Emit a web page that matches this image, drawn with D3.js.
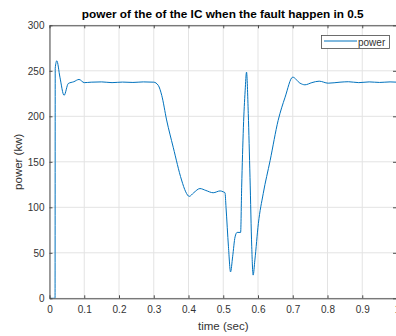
<!DOCTYPE html>
<html>
<head>
<meta charset="utf-8">
<script src="https://cdn.jsdelivr.net/npm/d3@7"></script>
<style>
  html, body { margin: 0; padding: 0; background: #fff; }
  svg { display: block; font-family: "Liberation Sans", Arial, Helvetica, sans-serif; }
</style>
</head>
<body>
<svg id="chart" width="396" height="336"></svg>
<script>
// Power of the IC over time (s), fault at t = 0.5
const timeSec = [
  0, 0.0160, 0.0165, 0.021, 0.030, 0.042, 0.054, 0.070, 0.085, 0.100,
  0.120, 0.150, 0.180, 0.210, 0.240, 0.270, 0.300, 0.313, 0.323, 0.337,
  0.356, 0.380, 0.392, 0.402, 0.415, 0.433, 0.450, 0.471, 0.491, 0.500,
  0.505, 0.508, 0.515, 0.521, 0.527, 0.534, 0.540, 0.550, 0.553, 0.558,
  0.563, 0.567, 0.572, 0.577, 0.582, 0.586, 0.591, 0.601, 0.615, 0.635,
  0.658, 0.678, 0.700, 0.721, 0.735, 0.755, 0.776, 0.802, 0.836, 0.860,
  0.890, 0.920, 0.950, 0.980, 1.000
];
const powerKw = [
  0, 0, 253, 261, 243, 223, 236, 238, 240.5, 237,
  237.5, 237.8, 237, 237.6, 237.2, 237.8, 237.5, 234, 223, 196,
  166, 130, 117, 112, 116, 120.6, 118.5, 116, 118, 117,
  116, 100, 56.6, 29, 45.6, 67.5, 72.4, 72.4, 122, 188,
  228, 248.5, 203, 133, 56.6, 25.5, 42, 82, 115, 151.6,
  195.5, 221, 243, 236.4, 234.6, 237, 238.6, 236.4, 237.5, 238,
  237, 237.8, 237.2, 237.8, 237.5
];
const xTicks = [0, 0.1, 0.2, 0.3, 0.4, 0.5, 0.6, 0.7, 0.8, 0.9, 1];
const yTicks = [0, 50, 100, 150, 200, 250, 300];
const seriesName = "power";
const titleText = "power of the of the IC when the fault happen in 0.5";

const svg = d3.select("#chart");
const plotL = 49.5, plotR = 397, plotT = 25.3, plotB = 298.3;

const x = d3.scaleLinear().domain([0, 1]).range([plotL, plotR]);
const y = d3.scaleLinear().domain([0, 300]).range([plotB, plotT]);

const axisColor = "#4a4a4a";
const textColor = "#333333";
const lineColor = "#0072BD";

// grid
svg.append("g").selectAll("line").data(xTicks).join("line")
  .attr("x1", d => x(d)).attr("x2", d => x(d))
  .attr("y1", plotT).attr("y2", plotB)
  .attr("stroke", "#e3e3e3").attr("stroke-width", 1);
svg.append("g").selectAll("line").data(yTicks).join("line")
  .attr("x1", plotL).attr("x2", plotR)
  .attr("y1", d => y(d)).attr("y2", d => y(d))
  .attr("stroke", "#e3e3e3").attr("stroke-width", 1);

// data line
svg.append("defs").append("clipPath").attr("id", "plotClip")
  .append("rect").attr("x", plotL).attr("y", plotT)
  .attr("width", plotR - plotL).attr("height", plotB - plotT);

const pts = timeSec.map((t, i) => [t, powerKw[i]]);
svg.append("path")
  .datum(pts)
  .attr("clip-path", "url(#plotClip)")
  .attr("fill", "none")
  .attr("stroke", lineColor)
  .attr("stroke-width", 1)
  .attr("stroke-linejoin", "round")
  .attr("d", d3.line().x(d => x(d[0])).y(d => y(d[1])).curve(d3.curveMonotoneX));

// axes (inward ticks, box on)
const xAxisB = d3.axisBottom(x).tickValues(xTicks).tickSizeInner(-3).tickSizeOuter(0)
  .tickFormat(d => d === 0 ? "0" : d === 1 ? "1" : d3.format(".1f")(d));
const gx = svg.append("g").attr("transform", `translate(0,${plotB})`).call(xAxisB);
const xAxisT = d3.axisTop(x).tickValues(xTicks).tickSizeInner(-3).tickSizeOuter(0).tickFormat("");
const gxt = svg.append("g").attr("transform", `translate(0,${plotT})`).call(xAxisT);

const yAxisL = d3.axisLeft(y).tickValues(yTicks).tickSizeInner(-3).tickSizeOuter(0);
const gy = svg.append("g").attr("transform", `translate(${plotL},0)`).call(yAxisL);
const yAxisR = d3.axisRight(y).tickValues(yTicks).tickSizeInner(-3).tickSizeOuter(0).tickFormat("");
const gyr = svg.append("g").attr("transform", `translate(${plotR - 1},0)`).call(yAxisR);

[gx, gxt, gy, gyr].forEach(g => {
  g.selectAll("path.domain").attr("stroke", axisColor).attr("stroke-width", 1);
  g.selectAll(".tick line").attr("stroke", axisColor).attr("stroke-width", 1);
  g.selectAll("text").attr("fill", textColor).attr("font-size", 10)
    .attr("font-family", "Liberation Sans, Arial, sans-serif");
});
gx.selectAll("text").attr("dy", null).attr("y", 15.2);
gy.selectAll("text").attr("x", -5).attr("dy", "0.34em");

// title and axis labels
svg.append("text")
  .attr("x", (plotL + plotR) / 2 - 0.5).attr("y", 18)
  .attr("text-anchor", "middle").attr("font-size", 11.8).attr("font-weight", "bold")
  .attr("fill", "#000").text(titleText);
svg.append("text")
  .attr("x", (plotL + plotR) / 2).attr("y", 330)
  .attr("text-anchor", "middle").attr("font-size", 11.5).attr("fill", textColor)
  .text("time (sec)");
svg.append("text")
  .attr("transform", `translate(22,${(plotT + plotB) / 2}) rotate(-90)`)
  .attr("text-anchor", "middle").attr("font-size", 11.5).attr("fill", textColor)
  .text("power (kw)");

// legend
const lg = svg.append("g");
lg.append("rect").attr("x", 321.5).attr("y", 35.5).attr("width", 68).attr("height", 13)
  .attr("fill", "#fff").attr("stroke", axisColor).attr("stroke-width", 0.8);
lg.append("line").attr("x1", 324).attr("x2", 357).attr("y1", 41).attr("y2", 41)
  .attr("stroke", lineColor).attr("stroke-width", 1);
lg.append("text").attr("x", 358).attr("y", 45.5).attr("font-size", 10)
  .attr("fill", textColor).text(seriesName);
</script>
</body>
</html>
